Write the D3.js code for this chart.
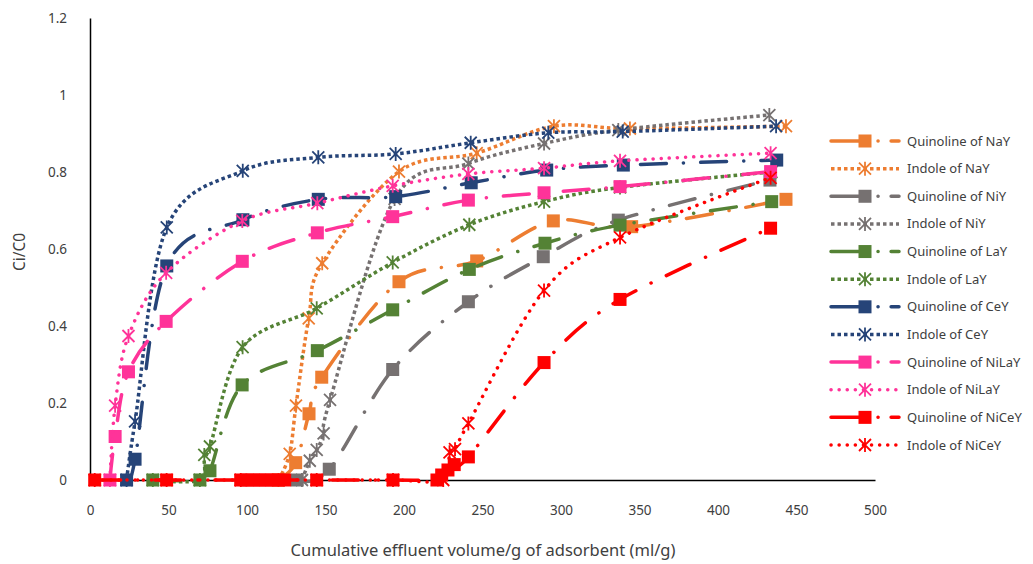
<!DOCTYPE html>
<html>
<head>
<meta charset="utf-8">
<script src="https://cdn.jsdelivr.net/npm/d3@7"></script>
<style>
  body { margin: 0; background: #fff; }
  text { font-family: "Noto Sans", sans-serif; fill: #404040; }
</style>
</head>
<body>
<script>
// x = cumulative effluent volume per g (ml/g), y = Ci/C0
const qNaY_x = [120, 131, 139.5, 147.6, 196.8, 246.3, 295.1, 345, 443.3],
      qNaY_y = [0, 0.045, 0.172, 0.267, 0.515, 0.569, 0.673, 0.658, 0.729];
const iNaY_x = [120, 127.2, 131.2, 139.3, 147.9, 196.8, 246.3, 295.5, 343.9, 443.3],
      iNaY_y = [0, 0.068, 0.193, 0.42, 0.563, 0.801, 0.849, 0.919, 0.913, 0.919];
const qNiY_x = [132, 152.4, 192.8, 241, 288.7, 336.5, 433.1],
      qNiY_y = [0, 0.028, 0.287, 0.463, 0.58, 0.675, 0.779];
const iNiY_x = [135, 140, 144.4, 148.8, 152.9, 194, 241, 289.2, 336.5, 432.7],
      iNiY_y = [0, 0.05, 0.078, 0.121, 0.208, 0.73, 0.822, 0.874, 0.909, 0.948];
const qLaY_x = [40, 70, 76.4, 96.9, 144.8, 192.8, 241.6, 289.8, 337.6, 434.2],
      qLaY_y = [0, 0, 0.024, 0.247, 0.336, 0.442, 0.547, 0.615, 0.662, 0.723];
const iLaY_x = [40, 70, 72.8, 76.4, 97.2, 144.4, 192.8, 241.6, 289.2, 337.6, 434],
      iLaY_y = [0, 0, 0.065, 0.087, 0.345, 0.446, 0.565, 0.663, 0.723, 0.76, 0.8];
const qCeY_x = [23.3, 28.7, 48.9, 97.4, 145.4, 194.7, 242.8, 290.9, 339.7, 437.4],
      qCeY_y = [0, 0.054, 0.556, 0.676, 0.729, 0.736, 0.772, 0.805, 0.818, 0.831];
const iCeY_x = [23.3, 28.7, 48.9, 97.3, 145.4, 194.7, 242.5, 291.9, 339.3, 437],
      iCeY_y = [0, 0.152, 0.656, 0.803, 0.838, 0.847, 0.876, 0.902, 0.905, 0.919];
const qNiLaY_x = [12.7, 16, 24.5, 48.5, 97, 144.8, 192.8, 241, 289.2, 337.6, 433.5],
      qNiLaY_y = [0, 0.113, 0.281, 0.412, 0.568, 0.642, 0.684, 0.727, 0.746, 0.762, 0.801];
const iNiLaY_x = [12.7, 16, 24.5, 48.5, 97, 144.8, 192.8, 241, 289.2, 337.6, 433.5],
      iNiLaY_y = [0, 0.193, 0.374, 0.538, 0.673, 0.719, 0.764, 0.795, 0.81, 0.829, 0.849];
const qNiCeY_x = [3, 48.8, 96, 100, 104, 108, 112, 116, 120, 124, 144.4, 193, 221, 224, 228, 232, 241, 289.2, 337.6, 433.5],
      qNiCeY_y = [0, 0, 0, 0, 0, 0, 0, 0, 0, 0, 0, 0, 0, 0.013, 0.026, 0.04, 0.06, 0.305, 0.469, 0.654];
const iNiCeY_x = [3, 48.8, 96, 144.4, 193, 225, 229, 232.5, 241, 289.2, 337.6, 433.5],
      iNiCeY_y = [0, 0, 0, 0, 0, 0, 0.072, 0.08, 0.147, 0.492, 0.63, 0.785];

const xTicks = [0, 50, 100, 150, 200, 250, 300, 350, 400, 450, 500],
      yTicks = [0, 0.2, 0.4, 0.6, 0.8, 1, 1.2];

const series = [
    { name: 'Quinoline of NaY', xs: qNaY_x, ys: qNaY_y, color: '#ED7D31', kind: 'q' },
    { name: 'Indole of NaY', xs: iNaY_x, ys: iNaY_y, color: '#ED7D31', kind: 'i' },
    { name: 'Quinoline of NiY', xs: qNiY_x, ys: qNiY_y, color: '#767171', kind: 'q' },
    { name: 'Indole of NiY', xs: iNiY_x, ys: iNiY_y, color: '#767171', kind: 'i' },
    { name: 'Quinoline of LaY', xs: qLaY_x, ys: qLaY_y, color: '#548235', kind: 'q' },
    { name: 'Indole of LaY', xs: iLaY_x, ys: iLaY_y, color: '#548235', kind: 'i' },
    { name: 'Quinoline of CeY', xs: qCeY_x, ys: qCeY_y, color: '#264478', kind: 'q' },
    { name: 'Indole of CeY', xs: iCeY_x, ys: iCeY_y, color: '#264478', kind: 'i' },
    { name: 'Quinoline of NiLaY', xs: qNiLaY_x, ys: qNiLaY_y, color: '#FF3399', kind: 'q' },
    { name: 'Indole of NiLaY', xs: iNiLaY_x, ys: iNiLaY_y, color: '#FF3399', kind: 'i', round: true },
    { name: 'Quinoline of NiCeY', xs: qNiCeY_x, ys: qNiCeY_y, color: '#FF0000', kind: 'q' },
    { name: 'Indole of NiCeY', xs: iNiCeY_x, ys: iNiCeY_y, color: '#FF0000', kind: 'i', round: true }
];

const width = 1033, height = 564;
const svg = d3.select('body').append('svg')
    .attr('width', width)
    .attr('height', height);

const x = d3.scaleLinear().domain([0, 500]).range([90, 875]);
const y = d3.scaleLinear().domain([0, 1.2]).range([480, 18]);

// axes
svg.append('g')
    .attr('transform', 'translate(0,480)')
    .call(d3.axisBottom(x).tickValues(xTicks).tickSize(0).tickPadding(25).tickFormat(d3.format('')))
    .call(g => g.select('.domain').attr('stroke', '#000').attr('stroke-width', 1.5))
    .call(g => g.selectAll('text').attr('font-size', 13.5).attr('fill', '#404040').style('font-family', '"Noto Sans", sans-serif'));

svg.append('g')
    .attr('transform', 'translate(90,0)')
    .call(d3.axisLeft(y).tickValues(yTicks).tickSize(0).tickPadding(23).tickFormat(d3.format('')))
    .call(g => g.select('.domain').attr('stroke', '#000').attr('stroke-width', 1.5))
    .call(g => g.selectAll('text').attr('font-size', 13.5).attr('fill', '#404040').style('font-family', '"Noto Sans", sans-serif'));

// axis titles
svg.append('text')
    .attr('x', 483).attr('y', 556)
    .attr('text-anchor', 'middle')
    .attr('font-size', 16.5)
    .text('Cumulative effluent volume/g of adsorbent (ml/g)');

svg.append('text')
    .attr('transform', 'translate(25,252) rotate(-90)')
    .attr('text-anchor', 'middle')
    .attr('font-size', 15.5)
    .text('Ci/C0');

const line = d3.line().curve(d3.curveCatmullRom.alpha(0));
const starPath = 'M-6,-6L6,6M-6,6L6,-6M0,-7L0,7';

function styleLine(sel, s, legend) {
    sel.attr('fill', 'none')
        .attr('stroke', s.color)
        .attr('stroke-width', 3.5);
    if (s.kind === 'q') {
        sel.attr('stroke-linecap', 'round')
            .attr('stroke-dasharray', legend ? '38,9,0.1,13,12' : '26,17,0.1,17');
    } else if (s.round) {
        sel.attr('stroke-linecap', 'round').attr('stroke-dasharray', '0.1,8');
    } else {
        sel.attr('stroke-linecap', 'butt').attr('stroke-dasharray', '3.5,3');
    }
}

function drawMarker(g, s, cx, cy) {
    if (s.kind === 'q') {
        g.append('rect')
            .attr('x', cx - 6.5).attr('y', cy - 6.5)
            .attr('width', 13).attr('height', 13)
            .attr('fill', s.color);
    } else {
        g.append('path')
            .attr('d', starPath)
            .attr('transform', 'translate(' + cx + ',' + cy + ')')
            .attr('fill', 'none')
            .attr('stroke', s.color)
            .attr('stroke-width', 1.8);
    }
}

// series: line then markers, in legend order
series.forEach(s => {
    const pts = s.xs.map((v, i) => [x(v), y(s.ys[i])]);
    const g = svg.append('g');
    g.append('path').attr('d', line(pts)).call(styleLine, s, false);
    pts.forEach(p => drawMarker(g, s, p[0], p[1]));
});

// legend
const legY = d3.scaleLinear().domain([0, 11]).range([141, 445]);
series.forEach((s, i) => {
    const ly = legY(i);
    const g = svg.append('g');
    g.append('line')
        .attr('x1', 831).attr('x2', 899)
        .attr('y1', ly).attr('y2', ly)
        .call(styleLine, s, true);
    drawMarker(g, s, 865, ly);
    g.append('text')
        .attr('x', 907).attr('y', ly)
        .attr('dy', '0.35em')
        .attr('font-size', 13)
        .text(s.name);
});
</script>
</body>
</html>
